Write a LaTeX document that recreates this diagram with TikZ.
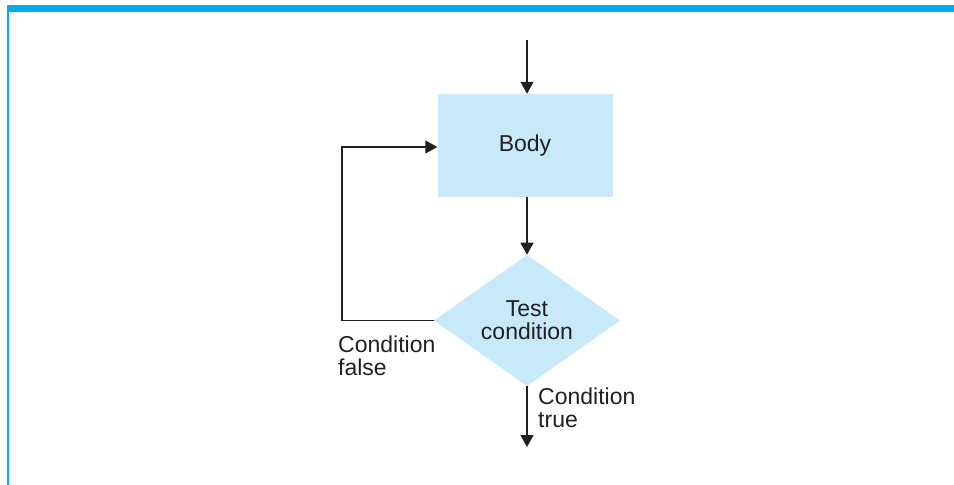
\documentclass[tikz,border=0pt]{standalone}
\usepackage{fontspec}
\setmainfont{Liberation Sans}
\usetikzlibrary{shapes.geometric,arrows.meta}
\definecolor{barblue}{RGB}{0,174,239}
\definecolor{boxblue}{RGB}{199,233,249}
\definecolor{ink}{RGB}{35,31,32}
\begin{document}
\begin{tikzpicture}[x=1pt, y=-1pt,
    >={Triangle[length=12pt,width=13pt]},
    every node/.style={font=\fontsize{23}{23}\selectfont, text=ink},
    blk/.style={rectangle, fill=boxblue, minimum width=175pt, minimum height=103pt, inner sep=0pt},
    test/.style={diamond, fill=boxblue, minimum width=186pt, minimum height=131pt, inner sep=0pt, align=center},
    lbl/.style={align=left, inner sep=0pt, anchor=north west},
    line/.style={draw=ink, line width=1.3pt}]
    \useasboundingbox (0,0) rectangle (954,485);

    % Рамка
    \fill[barblue] (7,5) rectangle (954,12);
    \fill[barblue] (7,5) rectangle (8.5,485);

    % Блоки
    \node[blk] (body) at (525,145.5) {Body};
    \node[test] (test) at (527,320.5) {Test\\condition};
    \coordinate (in) at (527,40);
    \coordinate (out) at (527,447);
    \coordinate (loop) at (342,320.5);

    % Стрелки
    \draw[line, ->] (in) -- (in |- body.north);
    \draw[line, ->] (in |- body.south) -- (test.north);
    \draw[line, ->] (test.west) -- (loop) |- ([yshift=-1.5pt]body.west);
    \draw[line, ->] (test.south) -- (out);

    % Подписи
    \node[lbl] (false) at (338,336) {Condition\\false};
    \node[lbl] (true) at (538,388) {Condition\\true};
\end{tikzpicture}
\end{document}
